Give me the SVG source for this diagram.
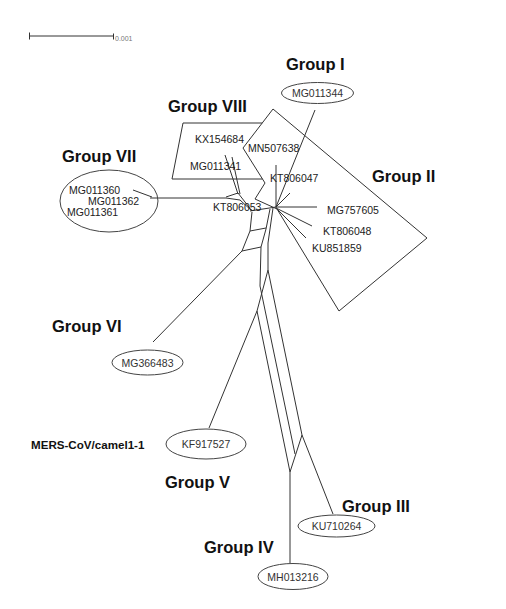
<svg xmlns="http://www.w3.org/2000/svg" width="506" height="609" viewBox="0 0 506 609">
<style>
.e{fill:none;stroke:#333;stroke-width:1}
.ov{fill:#fff;stroke:#444;stroke-width:1}
.t{font-family:"Liberation Sans",Arial,sans-serif;font-size:10.5px;fill:#222}
.tc{font-family:"Liberation Sans",Arial,sans-serif;font-size:10.5px;fill:#333;text-anchor:middle}
.g{font-family:"Liberation Sans",Arial,sans-serif;font-size:16.5px;font-weight:bold;fill:#111}
</style>
<rect width="506" height="609" fill="#fff"/>
<g id="scale">
<path class="e" d="M29.5 32.5V39.5M29.5 36H113.5M113.5 33.5V39.5" stroke="#777"/>
<text x="115" y="41" font-family="Liberation Sans,Arial,sans-serif" font-size="7" fill="#777">0.001</text>
</g>
<g id="connectors">
<!-- group II polygon -->
<path class="e" d="M273 109L427 238L339 311L277 209L255 199L265 183L243 148Z"/>
<!-- group VIII box -->
<path class="e" d="M262.2 123H183L172 179H262.5"/>
<!-- central star -->
<path class="e" d="M315 110L276 207M276 165V208M276 207H317M276 208L312 226M276 208L306 238M276 207L290 193"/>
<!-- group VII / VIII links -->
<path class="e" d="M133 190L152 197M150 198H226M226 197L238 193M226 198L240 200M238 193L252 211M240 200L252 211M225 155L238 194M232 157L240 194"/>
<!-- ladder -->
<path class="e" d="M250 211L276 207M252 212L250 231L242 251M270 209L266 229L261 247M250 231L266 228M242 251L261 247M242 251L153 342"/>
<path class="e" d="M273 208L268 243V270M268 270L257 311M268 270L302 435M261 247L260 286L295 454"/>
<path class="e" d="M257 311L209 428M257 311L290 472M290 472L302 435M302 435L333 514M290 472V563"/>
</g>
<g id="groupI"><text class="g" x="286" y="70">Group I</text>
<ellipse class="ov" cx="317.5" cy="93" rx="36" ry="10.5"/><text class="tc" x="317.5" y="97">MG011344</text></g>
<g id="groupVIII"><text class="g" x="168" y="112">Group VIII</text>
<text class="t" x="195" y="143">KX154684</text><text class="t" x="190" y="169.5">MG011341</text></g>
<g id="groupII"><text class="g" x="372" y="182">Group II</text>
<text class="t" x="248" y="152">MN507638</text><text class="t" x="270" y="181.5">KT806047</text>
<text class="t" x="327" y="214">MG757605</text><text class="t" x="323" y="235">KT806048</text><text class="t" x="312" y="252">KU851859</text>
<text class="t" x="213" y="211">KT806053</text></g>
<g id="groupVII"><text class="g" x="62" y="162">Group VII</text>
<ellipse cx="109" cy="201" rx="49" ry="31" fill="none" stroke="#444"/>
<text class="t" x="69" y="194">MG011360</text><text class="t" x="88" y="205">MG011362</text><text class="t" x="67" y="216">MG011361</text></g>
<g id="groupVI"><text class="g" x="52" y="332">Group VI</text>
<ellipse class="ov" cx="147.5" cy="362.5" rx="35.5" ry="12.5"/><text class="tc" x="147.5" y="366.5">MG366483</text></g>
<g id="groupV"><text x="31" y="449" font-family="Liberation Sans,Arial,sans-serif" font-size="11.6" font-weight="bold" fill="#111">MERS-CoV/camel1-1</text>
<ellipse class="ov" cx="206" cy="444" rx="40" ry="15"/><text class="tc" x="206" y="448">KF917527</text>
<text class="g" x="165" y="488">Group V</text></g>
<g id="groupIII"><text class="g" x="342" y="512">Group III</text>
<ellipse class="ov" cx="336.5" cy="526" rx="38.5" ry="11"/><text class="tc" x="336.5" y="530">KU710264</text></g>
<g id="groupIV"><text class="g" x="204" y="553">Group IV</text>
<ellipse class="ov" cx="293" cy="576.5" rx="35" ry="13"/><text class="tc" x="293" y="580.5">MH013216</text></g>
</svg>
